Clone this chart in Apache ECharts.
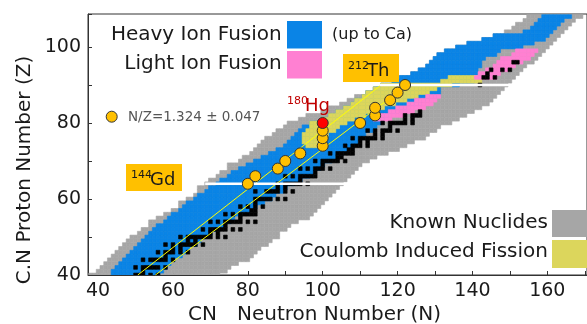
<!DOCTYPE html>
<html>
<head>
<meta charset="utf-8">
<script src="https://cdn.jsdelivr.net/npm/echarts@6/dist/echarts.min.js"></script>
<style>
html, body { margin: 0; padding: 0; background: #fff; }
#main { width: 587px; height: 324px; }
</style>
</head>
<body>
<div id="main"></div>
<script>
// [Z, Nmin, Nmax] rows
var knownRanges = [
  [40,38,72],[41,40,74],[42,41,75],[43,42,77],[44,43,80],[45,44,81],[46,45,82],[47,46,83],
  [48,47,85],[49,48,86],[50,49,88],[51,51,88],[52,52,90],[53,54,91],[54,54,93],[55,56,96],
  [56,58,97],[57,60,98],[58,62,99],[59,62,100],[60,64,101],[61,66,102],[62,67,103],[63,67,104],
  [64,69,105],[65,70,106],[66,72,107],[67,73,108],[68,75,109],[69,75,110],[70,78,112],[71,79,114],
  [72,81,117],[73,82,120],[74,83,122],[75,84,124],[76,85,127],[77,87,128],[78,88,130],[79,90,131],
  [80,91,134],[81,94,136],[82,96,138],[83,100,140],[84,102,142],[85,105,144],[86,107,145],[87,109,146],
  [88,112,147],[89,114,148],[90,116,149],[91,119,150],[92,121,151],[93,124,152],[94,126,153],[95,128,154],
  [96,129,156],[97,130,157],[98,131,158],[99,133,159],[100,136,160],[101,139,161],[102,143,162],[103,146,163],
  [104,149,164],[105,151,165],[106,152,166],[107,154,167],[108,155,169]
];
var heavyIonRanges = [
  [40,44,56],[41,44,57],[42,45,58],[43,46,59],[44,47,60],[45,48,62],[46,49,63],[47,50,64],
  [48,51,66],[49,52,67],[50,53,68],[51,54,70],[52,55,72],[53,56,73],[54,58,75],[55,59,76],
  [56,60,78],[57,62,80],[58,63,82],[59,64,84],[60,66,86],[61,67,87],[62,69,89],[63,70,90],
  [64,72,92],[65,73,94],[66,75,96],[67,76,97],[68,78,99],[69,80,100],[70,82,102],[71,84,103],
  [72,86,105],[73,88,106],[74,90,108],[75,91,109],[76,92,110],[77,93,111],[78,94,113],[79,95,114],
  [80,97,115],[81,100,116],[82,102,117],[83,104,120],[84,106,122],[85,108,126],[86,109,128],[87,111,130],
  [88,112,131],[89,114,131],[90,116,136],[91,119,140],[92,121,140],[93,124,141],[94,126,141],[95,128,142],
  [96,129,142],[97,130,143],[98,131,146],[99,133,147],[100,136,153],[101,139,156],[102,143,159],[103,146,160],
  [104,154,161],[105,156,162],[106,157,163],[107,158,164],[108,159,166]
];
var coulombRanges = [
  [74,96,98],[75,95,99],[76,95,100],[77,95,101],[78,96,103],[79,97,104],[80,97,106],[81,100,108],
  [82,102,111],[83,104,113],[84,106,116],[85,108,119],[86,109,122],[87,111,125],[88,112,128],[89,114,130],
  [90,116,134],[91,132,142],[92,134,141]
];
var lightIonRanges = [
  [81,114,118],[82,116,121],[83,118,124],[84,120,127],[85,123,129],[86,125,130],[87,128,131],
  [92,141,146],[93,142,147],[94,144,149],[95,146,151],[96,147,153],[97,148,155],[98,151,156],[99,152,157]
];
// [Z, [N...]] stable / long lived
var stableCells = [
  [40,[50,51,52,54,56]],[41,[52]],[42,[50,52,53,54,55,56,58]],[44,[52,54,55,56,57,58,60]],[45,[58]],
  [46,[56,58,59,60,62,64]],[47,[60,62]],[48,[58,60,62,63,64,65,66,68]],[49,[64,66]],
  [50,[62,64,65,66,67,68,69,70,72,74]],[51,[70,72]],[52,[68,70,71,72,73,74,76,78]],[53,[74]],
  [54,[70,72,74,75,76,77,78,80,82]],[55,[78]],[56,[74,76,78,79,80,81,82]],[57,[81,82]],[58,[78,80,82,84]],
  [59,[82]],[60,[82,83,84,85,86,88,90]],[62,[82,85,86,87,88,90,92]],[63,[88,90]],[64,[88,90,91,92,93,94,96]],
  [65,[94]],[66,[90,92,94,95,96,97,98]],[67,[98]],[68,[94,96,98,99,100,102]],[69,[100]],
  [70,[98,100,101,102,103,104,106]],[71,[104,105]],[72,[102,104,105,106,107,108]],[73,[107,108]],
  [74,[106,108,109,110,112]],[75,[110,112]],[76,[108,110,111,112,113,114,116]],[77,[114,116]],
  [78,[112,114,116,117,118,120]],[79,[118]],[80,[116,118,119,120,121,122,124]],[81,[122,124]],
  [82,[122,124,125,126]],[83,[126]],[90,[142]],[92,[143,144,146]],[93,[144]],[94,[145,148,150]],[96,[151,152]]
];
// N/Z band lines: N at Z = 40 and Z = 90
var bandZ = [40, 90];
var bandLowN = [50.6, 115.6];
var bandHighN = [55.3, 122.6];
// white separators [Z, Nstart, Nend]
var separators = [[64, 68.6, 106.7], [90, 115.3, 150]];
// measured compound nuclei [N, Z]
var cnPoints = [[80,64],[82,66],[88,68],[90,70],[94,72],[100,74],[100,76],[100,78],
  [110,80],[114,82],[114,84],[118,86],[120,88],[122,90]];
var cnHg = [[100,80]];

var xTicks = [40,50,60,70,80,90,100,110,120,130,140,150,160,170];
var xLabels = [40,60,80,100,120,140,160];

function expand(ranges) {
  var out = [];
  ranges.forEach(function (r) {
    for (var n = r[1]; n <= r[2]; n++) out.push([n, r[0]]);
  });
  return out;
}
var stableData = [];
stableCells.forEach(function (s) {
  s[1].forEach(function (n) { stableData.push([n, s[0]]); });
});

function cells(name, data, color, z) {
  return {
    type: 'custom', name: name, data: data, z: z, clip: true,
    encode: { x: 0, y: 1 },
    renderItem: function (params, api) {
      var p = api.coord([api.value(0) - 0.5, api.value(1) + 0.5]);
      var s = api.size([1, 1]);
      return { type: 'rect', shape: { x: p[0], y: p[1], width: s[0], height: s[1] },
        style: { fill: color, stroke: color, lineWidth: 0.6 } };
    }
  };
}

var font = 'DejaVu Sans';
var ink = '#1a1a1a';
var blue = '#0a84e6', pink = '#ff80d2', gray = '#a6a6a6', yellow = '#dcd65c', orange = '#ffc000';

var series = [
  cells('known', expand(knownRanges), gray, 1),
  cells('heavy', expand(heavyIonRanges), blue, 2),
  cells('coulomb', expand(coulombRanges), yellow, 3),
  cells('light', expand(lightIonRanges), pink, 4),
  cells('stable', stableData, '#000', 5),
  { type: 'line', data: [[bandLowN[0], bandZ[0]], [bandLowN[1], bandZ[1]]], symbol: 'none', z: 6,
    lineStyle: { color: '#ffff00', width: 1 } },
  { type: 'line', data: [[bandHighN[0], bandZ[0]], [bandHighN[1], bandZ[1]]], symbol: 'none', z: 6,
    lineStyle: { color: '#ffff00', width: 1 } }
];
separators.forEach(function (s) {
  series.push({ type: 'line', data: [[s[1], s[0]], [s[2], s[0]]], symbol: 'none', z: 7,
    lineStyle: { color: '#fff', width: 2.5 } });
});
series.push({ type: 'scatter', data: cnPoints, symbolSize: 11, z: 8,
  itemStyle: { color: orange, borderColor: '#333', borderWidth: 1, opacity: 1 } });
series.push({ type: 'scatter', data: cnHg, symbolSize: 11, z: 8,
  itemStyle: { color: '#ff0000', borderColor: '#333', borderWidth: 1, opacity: 1 } });

function txt(x, y, s, size, align, color, extra) {
  var o = { type: 'text', x: x, y: y, z: 100,
    style: { text: s, fontFamily: font, fontSize: size, fill: color || ink,
      align: align || 'left', verticalAlign: 'middle' } };
  if (extra) for (var k in extra) o[k] = extra[k];
  return o;
}
function box(x, y, w, h, c) {
  return { type: 'rect', z: 100, shape: { x: x, y: y, width: w, height: h }, style: { fill: c } };
}

var option = {
  animation: false,
  grid: { left: 88, top: 14, width: 504, height: 261, show: true, borderColor: '#333', borderWidth: 1 },
  xAxis: {
    type: 'value', min: 37.3, max: 170.6,
    axisLine: { show: true, lineStyle: { color: '#333' } },
    axisTick: { show: true, inside: true, length: 4, lineStyle: { color: '#333' }, customValues: xTicks },
    axisLabel: { customValues: xLabels, fontFamily: font, fontSize: 19, color: ink, margin: 7 },
    splitLine: { show: false }
  },
  yAxis: {
    type: 'value', min: 40, max: 108.68, interval: 10,
    axisLine: { show: true, lineStyle: { color: '#333' } },
    axisTick: { show: true, inside: true, length: 4, lineStyle: { color: '#333' } },
    axisLabel: { fontFamily: font, fontSize: 19, color: ink, margin: 7,
      formatter: function (v) { return v % 20 === 0 ? String(v) : ''; } },
    splitLine: { show: false }
  },
  series: series,
  graphic: [
    txt(281.7, 35, 'Heavy Ion Fusion', 20, 'right'),
    box(287, 21, 35, 27.5, blue),
    txt(332, 35, '(up to Ca)', 16),
    txt(281.7, 64, 'Light Ion Fusion', 20, 'right'),
    box(287, 51, 35, 27.5, pink),
    txt(548, 223, 'Known Nuclides', 20, 'right'),
    box(552, 210, 36, 27, gray),
    txt(548, 252, 'Coulomb Induced Fission', 20, 'right'),
    box(552, 240, 36, 28, yellow),
    { type: 'circle', z: 100, shape: { cx: 111.7, cy: 116.7, r: 5.5 },
      style: { fill: orange, stroke: '#333', lineWidth: 1 } },
    txt(128, 117, 'N/Z=1.324 \u00b1 0.047', 13.5, 'left', '#555'),
    box(126, 164, 56, 27, orange),
    txt(131, 175, '144', 11),
    txt(150, 180, 'Gd', 18),
    box(343, 54, 56, 28, orange),
    txt(348, 66, '212', 11),
    txt(367, 71, 'Th', 18),
    txt(287, 101, '180', 11, 'left', '#c00000'),
    txt(305, 106, 'Hg', 18, 'left', '#c00000'),
    txt(188, 315, 'CN', 20),
    txt(237, 315, 'Neutron Number (N)', 20),
    txt(25, 170, 'C.N Proton Number (Z)', 20, 'center', ink, { rotation: Math.PI / 2 })
  ]
};

var chart = echarts.init(document.getElementById('main'), null, { renderer: 'canvas' });
chart.setOption(option);
</script>
</body>
</html>
